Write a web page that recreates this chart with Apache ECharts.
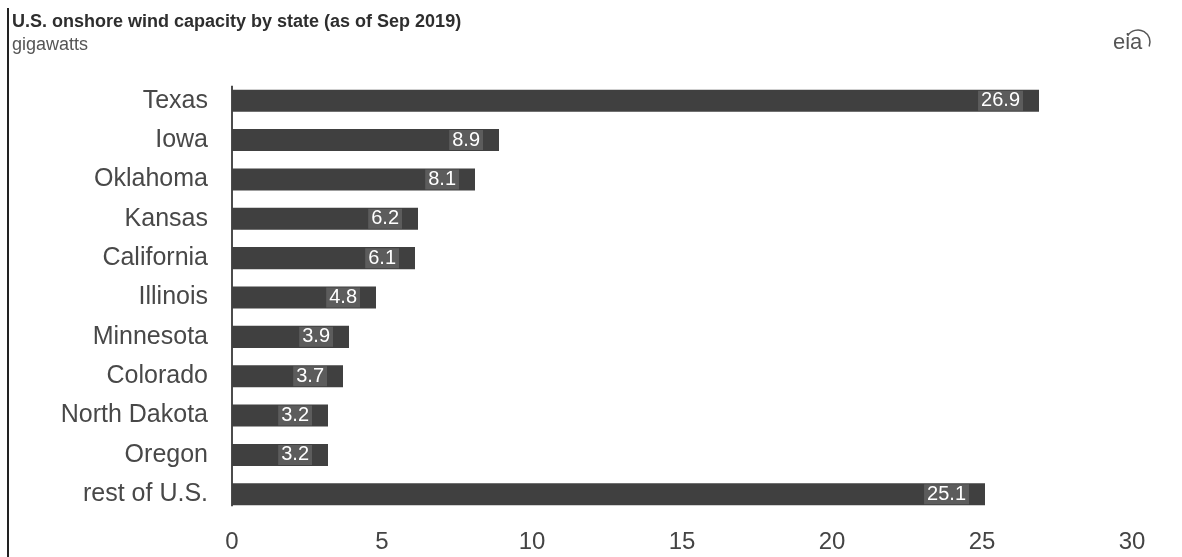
<!DOCTYPE html>
<html>
<head>
<meta charset="utf-8">
<script src="https://cdn.jsdelivr.net/npm/echarts@6/dist/echarts.min.js"></script>
<style>
  html, body { margin: 0; padding: 0; background: #fff; }
  #chart { width: 1182px; height: 557px; }
</style>
</head>
<body>
<div id="chart"></div>
<script>
// Onshore wind capacity by state, gigawatts
const states = ['Texas', 'Iowa', 'Oklahoma', 'Kansas', 'California', 'Illinois',
  'Minnesota', 'Colorado', 'North Dakota', 'Oregon', 'rest of U.S.'];
const capacity = [26.9, 8.9, 8.1, 6.2, 6.1, 4.8, 3.9, 3.7, 3.2, 3.2, 25.1];
const xTicks = [0, 5, 10, 15, 20, 25, 30];

const chart = echarts.init(document.getElementById('chart'));
const font = '"Liberation Sans", Arial, sans-serif';
const gapRatio = 0.44;

chart.setOption({
  backgroundColor: '#ffffff',
  animation: false,
  title: {
    text: 'U.S. onshore wind capacity by state (as of Sep 2019)',
    subtext: 'gigawatts',
    left: 7,
    top: 8,
    itemGap: 5,
    textStyle: { fontFamily: font, fontSize: 18, fontWeight: 'bold', color: '#2e2e2e' },
    subtextStyle: { fontFamily: font, fontSize: 18, color: '#555' }
  },
  grid: { left: 232, right: 50, top: 81, bottom: 43, containLabel: false },
  xAxis: {
    type: 'value',
    min: xTicks[0],
    max: xTicks[xTicks.length - 1],
    interval: xTicks[1] - xTicks[0],
    axisLine: { show: false },
    axisTick: { show: false },
    splitLine: { show: false },
    axisLabel: { fontFamily: font, fontSize: 24, color: '#444', margin: 16 }
  },
  yAxis: {
    type: 'category',
    data: states,
    inverse: true,
    axisLine: { show: false },
    axisTick: { show: false },
    axisLabel: { fontFamily: font, fontSize: 25, color: '#484848', margin: 24 }
  },
  series: [{
    type: 'bar',
    data: capacity,
    barCategoryGap: (gapRatio * 100) + '%',
    itemStyle: { color: '#404040' },
    label: {
      show: true,
      position: 'insideRight',
      distance: 16,
      fontFamily: font,
      fontSize: 20,
      color: '#fff',
      backgroundColor: '#5c5c5c',
      padding: [0, 3],
      formatter: p => p.value.toFixed(1)
    }
  }]
});

// Vertical baseline at zero, spanning from the first bar to the last
const zeroX = chart.convertToPixel({ xAxisIndex: 0 }, 0);
const firstY = chart.convertToPixel({ yAxisIndex: 0 }, states[0]);
const lastY = chart.convertToPixel({ yAxisIndex: 0 }, states[states.length - 1]);
const band = (lastY - firstY) / (states.length - 1);
const halfBar = band * (1 - gapRatio) / 2;

chart.setOption({
  graphic: [
    {
      type: 'line',
      shape: { x1: 8, y1: 8, x2: 8, y2: 557 },
      style: { stroke: '#222', lineWidth: 2 }
    },
    {
      type: 'line',
      shape: { x1: zeroX, y1: firstY - halfBar - 4, x2: zeroX, y2: lastY + halfBar + 1 },
      style: { stroke: '#111', lineWidth: 1.5 }
    },
    {
      type: 'text',
      x: 1113, y: 32,
      style: { text: 'eia', font: '22px "Liberation Sans", sans-serif', fill: '#555' }
    },
    {
      type: 'arc',
      shape: { cx: 1138, cy: 42, r: 12, startAngle: Math.PI * 1.17, endAngle: Math.PI * 2.12, clockwise: true },
      style: { stroke: '#555', lineWidth: 1.5, fill: null }
    }
  ]
});
</script>
</body>
</html>
